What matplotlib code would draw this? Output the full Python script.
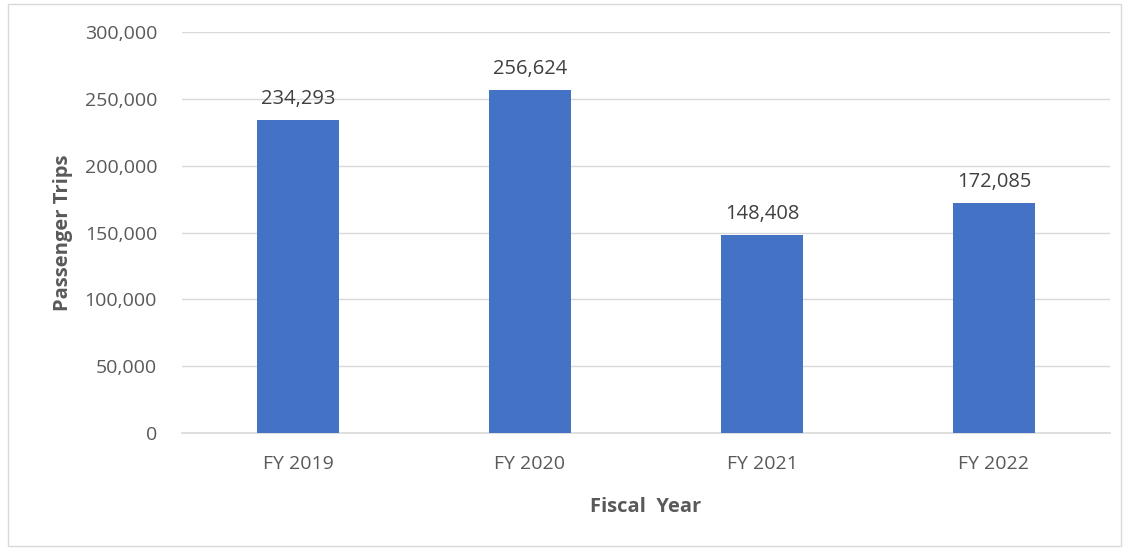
import matplotlib
matplotlib.use("Agg")
import matplotlib.pyplot as plt
from matplotlib.patches import Rectangle
from matplotlib.ticker import FuncFormatter

categories = ["FY 2019", "FY 2020", "FY 2021", "FY 2022"]
trips = [234293, 256624, 148408, 172085]
yticks = [0, 50000, 100000, 150000, 200000, 250000, 300000]

plt.rcParams['font.family'] = ['Open Sans', 'DejaVu Sans']
txt = '#595959'

fig = plt.figure(figsize=(11.29, 5.5), dpi=100)
ax = fig.add_axes([182/1129, 1-433/550, (1110-182)/1129, (433-32)/550])

x = range(len(categories))
ax.bar(x, trips, width=0.355, color='#4472C4', zorder=3)
for xi, v in zip(x, trips):
    ax.annotate(f"{v:,}", (xi, v), xytext=(0, 8), textcoords='offset points',
                ha='center', va='bottom', fontsize=14.5, color='#404040')

ax.set_xlim(-0.5, 3.5)
ax.set_ylim(0, 300000)
ax.set_yticks(yticks)
ax.yaxis.set_major_formatter(FuncFormatter(lambda v, p: f"{int(v):,}"))
ax.set_xticks(list(x))
ax.set_xticklabels(categories)
ax.grid(axis='y', color='#d9d9d9', linewidth=1, zorder=0)
for s in ['top', 'right', 'left']:
    ax.spines[s].set_visible(False)
ax.spines['bottom'].set_color('#d9d9d9')
ax.spines['bottom'].set_linewidth(1.2)
ax.tick_params(axis='both', length=0, labelsize=14, colors=txt)
ax.tick_params(axis='y', pad=18)
ax.tick_params(axis='x', pad=16)
ax.set_ylabel("Passenger Trips", fontsize=14.5, fontweight='bold', color=txt, labelpad=8)
ax.set_xlabel("Fiscal  Year", fontsize=14.5, fontweight='bold', color=txt, labelpad=17)

fig.patches.append(Rectangle((8/1129, 1-546/550), (1121-8)/1129, (546-4)/550,
                             transform=fig.transFigure, fill=False,
                             edgecolor='#d9d9d9', linewidth=1))

fig.savefig("out.png", dpi=100)
